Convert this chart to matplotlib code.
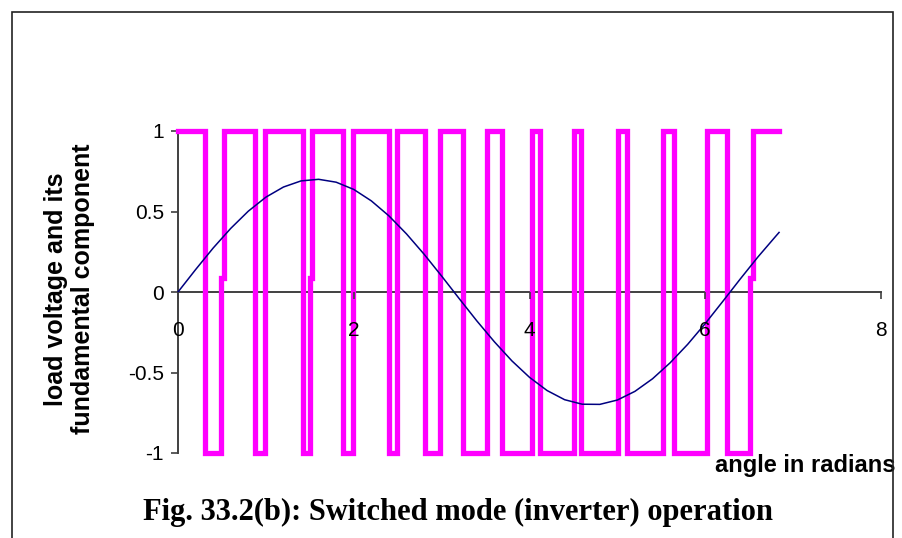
import numpy as np
import matplotlib
matplotlib.use('Agg')
import matplotlib.pyplot as plt
from matplotlib.patches import Rectangle

plt.rcParams['font.family'] = ['Liberation Sans', 'DejaVu Sans']
plt.rcParams['axes.unicode_minus'] = False

# switching instants of the load voltage (rad)
edges = [0.0, 0.307, 0.489, 0.875, 0.989, 1.420, 1.500, 1.875, 1.989, 2.398,
         2.489, 2.807, 2.977, 3.239, 3.511, 3.682, 4.023, 4.125, 4.511, 4.591,
         5.011, 5.114, 5.523, 5.648, 6.023, 6.250, 6.511, 6.841]
first_level = 1
# rising edges drawn with a small intermediate step
glitch_x = [0.489, 1.500, 6.511]
glitch_level = 0.09
glitch_width = 0.03

# fundamental component
fund_x = [0.0, 0.2, 0.4, 0.6, 0.8, 1.0, 1.2, 1.4, 1.6, 1.8, 2.0, 2.2, 2.4, 2.6,
          2.8, 3.0, 3.2, 3.4, 3.6, 3.8, 4.0, 4.2, 4.4, 4.6, 4.8, 5.0, 5.2, 5.4,
          5.6, 5.8, 6.0, 6.2, 6.4, 6.6, 6.8, 6.84]
fund_y = [0.0, 0.139, 0.273, 0.395, 0.502, 0.589, 0.652, 0.690, 0.700, 0.682,
          0.637, 0.566, 0.473, 0.361, 0.235, 0.099, -0.041, -0.179, -0.309,
          -0.428, -0.530, -0.612, -0.669, -0.697, -0.698, -0.671, -0.617,
          -0.539, -0.440, -0.325, -0.196, -0.058, 0.082, 0.218, 0.345, 0.370]

x_ticks = [0, 2, 4, 6, 8]
y_ticks = [-1, -0.5, 0, 0.5, 1]

# build the square wave polyline
wx, wy = [], []
level = first_level
start = edges[0]
for i in range(len(edges) - 1):
    wx += [start, edges[i + 1]]
    wy += [level, level]
    e = edges[i + 1]
    nxt = -level
    if nxt > 0 and any(abs(e - g) < 1e-6 for g in glitch_x):
        wx += [e, e + glitch_width]
        wy += [glitch_level, glitch_level]
        start = e + glitch_width
    else:
        start = e
    level = nxt

fig = plt.figure(figsize=(9.02, 5.38), dpi=100)
fig.patches.append(Rectangle((12 / 902, -0.05), (893 - 12) / 902, 1.05 - 12 / 538,
                             transform=fig.transFigure, fill=False,
                             edgecolor='#222222', linewidth=1.2))

ax = fig.add_axes([178 / 902, 85 / 538, 703 / 902, 322 / 538])
ax.plot(wx, wy, color='#ff00ff', linewidth=3.8, solid_joinstyle='miter',
        clip_on=False, zorder=3)
ax.plot(fund_x, fund_y, color='#000080', linewidth=1.1, clip_on=False, zorder=4)

ax.set_xlim(0, 8)
ax.set_ylim(-1, 1)
ax.spines['top'].set_visible(False)
ax.spines['right'].set_visible(False)
ax.spines['bottom'].set_position(('data', 0))
for s in ['left', 'bottom']:
    ax.spines[s].set_color('#404040')
    ax.spines[s].set_linewidth(1.4)
    ax.spines[s].set_zorder(2)
# tick labels sit on top of the waveform
ax.xaxis.set_zorder(5)

ax.set_xticks(x_ticks)
ax.set_yticks(y_ticks)
ax.set_yticklabels(['-1', '-0.5', '0', '0.5', '1'])
ax.tick_params(axis='y', direction='out', length=5, width=1.2, color='#404040',
               labelsize=15, pad=5)
ax.tick_params(axis='x', direction='out', length=5, width=1.2, color='#404040',
               labelsize=15, pad=16)

ax.set_ylabel('load voltage and its\nfundamental component', fontsize=18,
              fontweight='bold', va='center', linespacing=1.15)
ax.yaxis.set_label_coords(-0.154, 0.51)
ax.set_xlabel('angle in radians', fontsize=17, fontweight='bold', va='center')
ax.xaxis.set_label_coords(0.892, -0.04)

fig.text(458 / 902, 1 - 512 / 538, 'Fig. 33.2(b): Switched mode (inverter) operation',
         ha='center', va='center', fontsize=22, fontweight='bold',
         family=['Liberation Serif', 'DejaVu Serif'])

fig.savefig('out.png', dpi=100)
